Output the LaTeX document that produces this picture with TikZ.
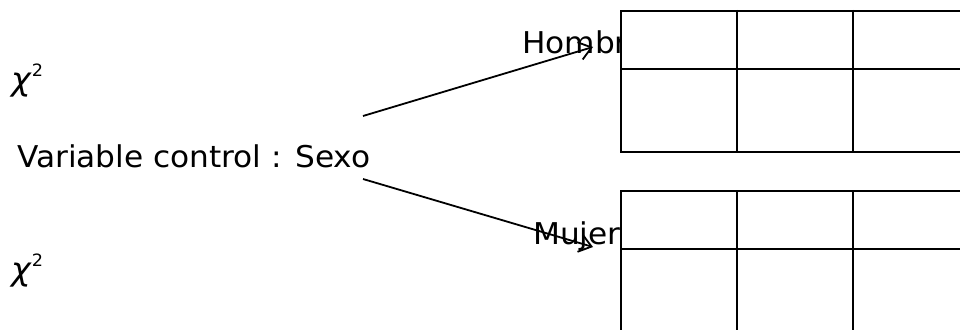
\documentclass[tikz,border=0pt]{standalone}
\usepackage{fontspec}
\setmainfont[FakeStretch=1.04]{DejaVu Sans}
\usetikzlibrary{arrows.meta}
\begin{document}
\begin{tikzpicture}[x=1pt,y=-1pt,
  lbl/.style={font=\fontsize{30}{36}\selectfont, anchor=base west, inner sep=0pt},
  chisq/.style={anchor=base west, inner sep=0pt},
  conn/.style={line width=1.8pt, -{Straight Barb[length=12pt,width=18pt,line width=1.8pt]}},
  tbl/.style={draw, line width=1.8pt, fill=white, rectangle, inner sep=0pt, anchor=north west,
              minimum width=350pt},
  rule/.style={line width=1.8pt}]
\useasboundingbox (0,0) rectangle (960,329);

% statistic labels
\newcommand{\chisym}{{\fontsize{32}{36}\selectfont\itshape χ}\kern1pt\raisebox{14pt}{\fontsize{17}{20}\selectfont 2}}
\node[chisq] (chi1) at (11,90) {\chisym};
\node[chisq] (chi2) at (11,280) {\chisym};

% control variable
\node[lbl] (var) at (17,167) {Variable control : Sexo};

% group labels (partly hidden behind the tables)
\node[lbl] (hom) at (522,54) {Hombre};
\node[lbl] (muj) at (533,244) {Mujer};

% arrows from the control variable to each group
\coordinate (s1) at (363,116);
\coordinate (e1) at (593,47);
\coordinate (s2) at (363,179);
\coordinate (e2) at (593,247);
\draw[conn] (s1) -- (e1);
\draw[conn] (s2) -- (e2);

% contingency table for men
\node[tbl, minimum height=141pt] (t1) at (620,10) {};
\draw[rule] (737,10) -- (737,151);
\draw[rule] (853,10) -- (853,151);
\draw[rule] (620,69) -- (970,69);

% contingency table for women
\node[tbl, minimum height=160pt] (t2) at (620,190) {};
\draw[rule] (737,190) -- (737,350);
\draw[rule] (853,190) -- (853,350);
\draw[rule] (620,249) -- (970,249);
\end{tikzpicture}
\end{document}
